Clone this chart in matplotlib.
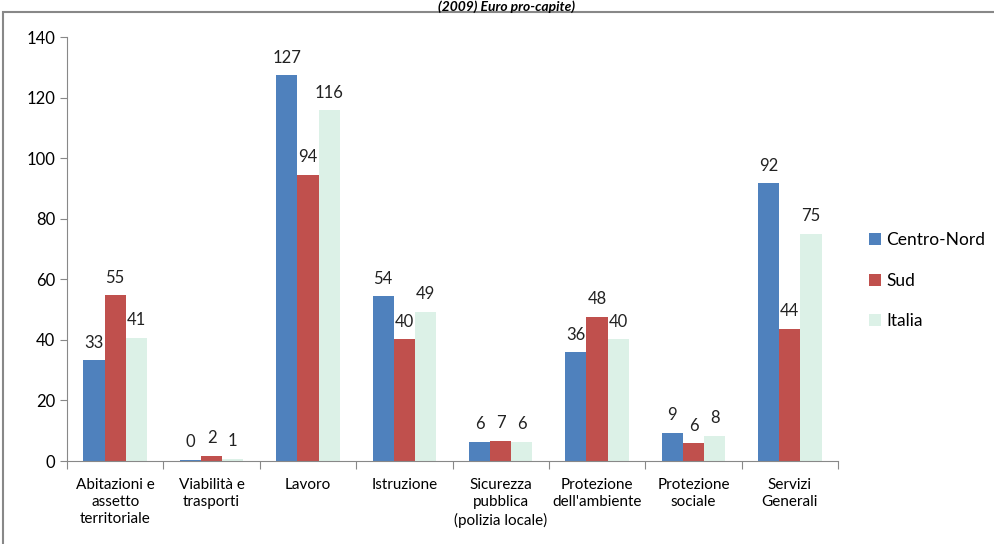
import numpy as np
import matplotlib
matplotlib.use("Agg")
import matplotlib.pyplot as plt
from matplotlib.patches import Rectangle

plt.rcParams['font.family'] = ['Lato', 'DejaVu Sans']

categorie = ['Abitazioni e\nassetto\nterritoriale', 'Viabilità e\ntrasporti', 'Lavoro',
             'Istruzione', 'Sicurezza\npubblica\n(polizia locale)', 'Protezione\ndell\'ambiente',
             'Protezione\nsociale', 'Servizi\nGenerali']
centro_nord = [33.2, 0.4, 127.3, 54.4, 6.3, 35.9, 9.2, 91.7]
sud = [54.7, 1.6, 94.4, 40.2, 6.6, 47.6, 5.8, 43.6]
italia = [40.6, 0.8, 115.8, 49.3, 6.4, 40.2, 8.2, 75.0]
serie = ['Centro-Nord', 'Sud', 'Italia']
colori = ['#4F81BD', '#C0504D', '#DCF1E7']

fig = plt.figure(figsize=(9.95, 5.44), dpi=100)
ax = fig.add_axes([67/995, 1-461/544, (838-67)/995, (461-37)/544])

x = np.arange(len(categorie))
w = 0.22
for i, (vals, nome, col) in enumerate(zip([centro_nord, sud, italia], serie, colori)):
    pos = x + (i - 1) * w
    ax.bar(pos, vals, width=w, color=col, label=nome)
    for p, v in zip(pos, vals):
        ax.annotate(f'{v:.0f}', (p, v), xytext=(0, 7), textcoords='offset points',
                    ha='center', va='bottom', fontsize=12, color='#222222')

ax.set_xlim(-0.5, len(categorie) - 0.5)
ax.set_ylim(0, 140)
ax.set_yticks(range(0, 141, 20))
ax.set_xticks(np.arange(-0.5, len(categorie), 1))
ax.set_xticklabels([])
ax.set_xticks(x, minor=True)
ax.set_xticklabels(categorie, minor=True, fontsize=11, linespacing=1.3)
ax.tick_params(axis='x', which='minor', length=0, pad=12)
ax.tick_params(axis='x', which='major', length=6, color='#888888')
ax.tick_params(axis='y', length=5, color='#888888', labelsize=12)
for s in ['top', 'right']:
    ax.spines[s].set_visible(False)
for s in ['left', 'bottom']:
    ax.spines[s].set_color('#888888')

ax.legend(loc='center left', bbox_to_anchor=(1.02, 0.425), frameon=False, fontsize=12.5,
          handlelength=0.7, handleheight=0.7, handletextpad=0.3, labelspacing=1.4)

fig.patches.append(Rectangle((3/995, -0.02), 1.0, (544-12)/544 + 0.02, transform=fig.transFigure,
                             fill=False, edgecolor='#888888', linewidth=1.5))
fig.text(507/995, 1-11/544, '(2009) Euro pro-capite)', ha='center', va='baseline',
         fontsize=10, fontweight='bold', fontstyle='italic')

fig.savefig('out.png', dpi=100)
